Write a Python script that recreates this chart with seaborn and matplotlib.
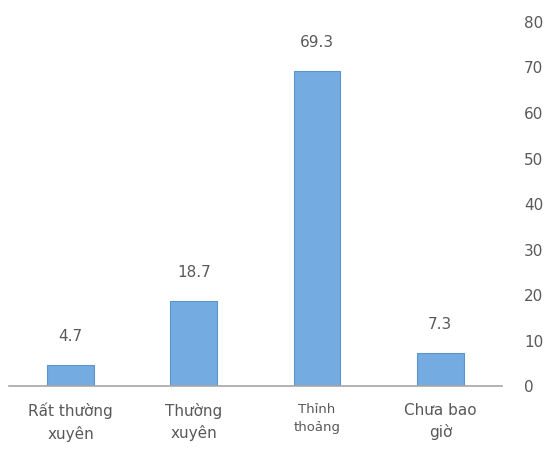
import matplotlib
matplotlib.use("Agg")
import matplotlib.pyplot as plt
import seaborn as sns
import pandas as pd

categories = ["Rất thường\nxuyên", "Thường\nxuyên", "Thỉnh\nthoảng", "Chưa bao\ngiờ"]
values = [4.7, 18.7, 69.3, 7.3]
y_ticks = [0, 10, 20, 30, 40, 50, 60, 70, 80]

sns.set_theme(style="white")
plt.rcParams["font.family"] = ["DejaVu Sans"]

df = pd.DataFrame({"cat": categories, "val": values})
text_color = "#595959"

fig = plt.figure(figsize=(5.54, 4.57), dpi=100)
ax = fig.add_axes([0.016, 0.155, 0.89, 0.797])
sns.barplot(data=df, x="cat", y="val", ax=ax, color="#74ABE0", width=0.38,
            saturation=1, edgecolor="#5B95CC", linewidth=0.8)

for i, v in enumerate(values):
    ax.annotate(f"{v}", (i, v), xytext=(0, 15), textcoords="offset points",
                ha="center", va="bottom", fontsize=11, color=text_color)

ax.set_ylim(0, 80)
ax.set_xlim(-0.5, len(categories) - 0.5)
ax.set_yticks(y_ticks)
ax.yaxis.tick_right()
ax.tick_params(axis="y", length=0, pad=16, labelsize=11, labelcolor=text_color)
ax.tick_params(axis="x", length=0, pad=12, labelsize=11, labelcolor=text_color)
for lbl in ax.get_yticklabels():
    lbl.set_horizontalalignment("left")
for lbl in ax.get_xticklabels():
    lbl.set_linespacing(1.5)
    if lbl.get_text().startswith("Thỉnh"):
        lbl.set_fontsize(9.5)
ax.set_xlabel("")
ax.set_ylabel("")
for s in ["top", "left", "right"]:
    ax.spines[s].set_visible(False)
ax.spines["bottom"].set_color("#A6A6A6")
ax.spines["bottom"].set_linewidth(1.2)

fig.savefig("out.png", dpi=100)
